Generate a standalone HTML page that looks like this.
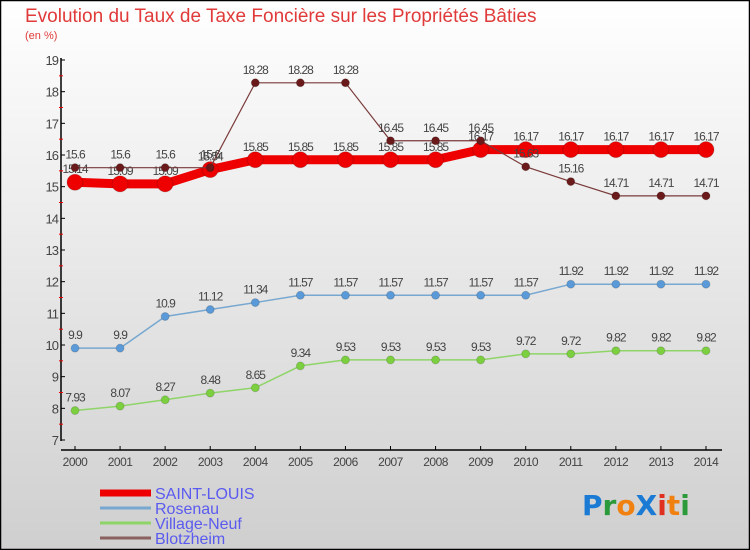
<!DOCTYPE html>
<html><head><meta charset="utf-8"><style>
body{margin:0;}
#c{width:750px;height:550px;position:relative;overflow:hidden;font-family:"Liberation Sans",sans-serif;}
</style></head><body>
<div id="c">
<svg id="s" width="750" height="550" xmlns="http://www.w3.org/2000/svg">
<defs><linearGradient id="bg" x1="0" y1="0" x2="0" y2="1"><stop offset="0" stop-color="#ffffff"/><stop offset="1" stop-color="#cfcfcf"/></linearGradient></defs>
<rect x="0.5" y="0.5" width="749" height="549" fill="url(#bg)" stroke="#000" stroke-width="1.5"/>
<text x="25" y="22" font-size="19" fill="#e03a3a">Evolution du Taux de Taxe Foncière sur les Propriétés Bâties</text>
<text x="25" y="39" font-size="11" fill="#e03a3a">(en %)</text>
<g id="axes"></g><g id="series"></g><g id="legend"></g>
<g font-size="28" font-weight="bold" font-family="'DejaVu Sans',sans-serif">
<text x="582" y="515"><tspan fill="#1a7ad4">P</tspan><tspan fill="#2a9a3a">r</tspan><tspan fill="#f08010">o</tspan><tspan fill="#1a7ad4">X</tspan><tspan fill="#e03020">i</tspan><tspan fill="#f08010">t</tspan><tspan fill="#2a9a3a">i</tspan></text>
</g>
</svg>
</div>
<script>
const years=[2000,2001,2002,2003,2004,2005,2006,2007,2008,2009,2010,2011,2012,2013,2014];
const yTicks=[7,8,9,10,11,12,13,14,15,16,17,18,19];
const saintLouis=[15.14,15.09,15.09,15.54,15.85,15.85,15.85,15.85,15.85,16.17,16.17,16.17,16.17,16.17,16.17];
const rosenau=[9.9,9.9,10.9,11.12,11.34,11.57,11.57,11.57,11.57,11.57,11.57,11.92,11.92,11.92,11.92];
const villageNeuf=[7.93,8.07,8.27,8.48,8.65,9.34,9.53,9.53,9.53,9.53,9.72,9.72,9.82,9.82,9.82];
const blotzheim=[15.6,15.6,15.6,15.6,18.28,18.28,18.28,16.45,16.45,16.45,15.63,15.16,14.71,14.71,14.71];
const NS="http://www.w3.org/2000/svg";
const X=i=>75+i*(706-75)/(years.length-1);
const Y=v=>60+(19-v)*(380/12);
function mk(t,a,p){const e=document.createElementNS(NS,t);for(const k in a)e.setAttribute(k,a[k]);p.appendChild(e);return e;}
const ax=document.getElementById('axes');
let yl=mk('line',{x1:61,y1:58,x2:61,y2:441,stroke:'#000','stroke-width':1.5},ax);


let xl=mk('line',{x1:61,y1:450,x2:722,y2:450,stroke:'#000','stroke-width':1.5},ax);


yTicks.forEach(v=>{
 mk('line',{x1:61,y1:Y(v),x2:65,y2:Y(v),stroke:'#000'},ax);
 if(v<19) mk('line',{x1:59,y1:Y(v+0.5),x2:63,y2:Y(v+0.5),stroke:'#e00'},ax);
 const t=mk('text',{x:58,y:Y(v)+5,'text-anchor':'end','font-size':13,fill:'#444','letter-spacing':'-1'},ax);
 t.textContent=v;
 
 
});
years.forEach((yr,i)=>{
 mk('line',{x1:X(i),y1:446,x2:X(i),y2:450,stroke:'#000'},ax);
 const t=mk('text',{x:X(i),y:466,'text-anchor':'middle','font-size':12,fill:'#444','letter-spacing':'-0.5'},ax);
 t.textContent=yr;
 
 
});
const sg=document.getElementById('series');
const series=[
 {d:villageNeuf,c:'#8fd468',pc:'#7cd040',w:1.5,r:4,name:'village-neuf'},
 {d:rosenau,c:'#78a8d0',pc:'#5a9ad8',w:1.5,r:4,name:'rosenau'},
 {d:saintLouis,c:'#ee0000',pc:'#ee0000',w:9,r:8,name:'saint-louis'},
 {d:blotzheim,c:'#7a3a3a',pc:'#6a1a1a',w:1.2,r:4,name:'blotzheim'}
];
series.forEach(s=>{
 const g=mk('g',{},sg);
 
 
 const p=mk('polyline',{points:s.d.map((v,i)=>X(i)+','+Y(v)).join(' '),fill:'none',stroke:s.c,'stroke-width':s.w},g);
 
 
 s.d.forEach((v,i)=>{
  const c=mk('circle',{cx:X(i),cy:Y(v),r:s.r,fill:s.pc,stroke:'rgba(0,0,0,0.15)'},g);
  
  
  const t=mk('text',{x:X(i),y:Y(v)-9,'text-anchor':'middle','font-size':12,fill:'#444','letter-spacing':'-1'},g);
  t.textContent=v;
  
  
 });
});
const lg=document.getElementById('legend');
const leg=[['SAINT-LOUIS','#ee0000',7,'legend-saint-louis'],['Rosenau','#78a8d0',3,'legend-rosenau'],['Village-Neuf','#8fd468',3,'legend-village-neuf'],['Blotzheim','#8a6060',3,'legend-blotzheim']];
leg.forEach((l,i)=>{
 const y=493+i*15;
 const g=mk('g',{},lg);
 
 
 mk('line',{x1:100,y1:y,x2:151,y2:y,stroke:l[1],'stroke-width':l[2]},g);
 const t=mk('text',{x:155,y:y+6,'font-size':16,fill:'#5a5af0'},g);
 t.textContent=l[0];
});
</script>
</body></html>
